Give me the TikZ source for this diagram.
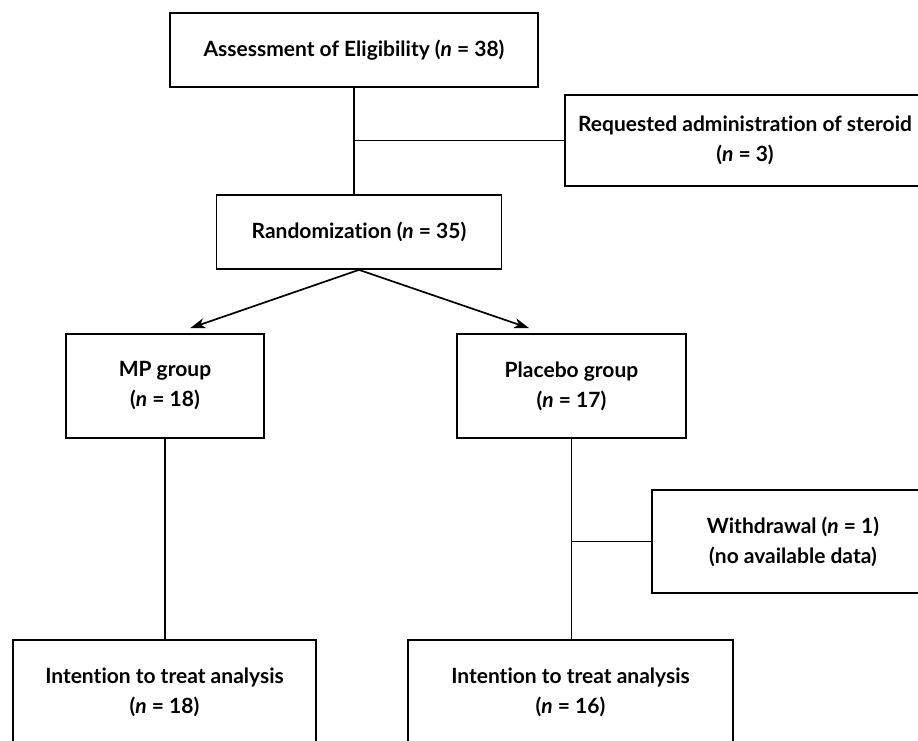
\documentclass[tikz,border=0pt]{standalone}
\usepackage{fontspec}
\setmainfont{Lato}[Ligatures=NoCommon]
\usetikzlibrary{arrows.meta,calc}

\tikzset{
  box/.style={draw, line width=1.7pt, align=center, inner sep=0pt,
    font=\bfseries\fontsize{21}{30}\selectfont},
  link/.style={line width=1.7pt},
}

\begin{document}
\begin{tikzpicture}[x=1pt,y=-1pt,>={Stealth[length=15pt,width=10pt,inset=4pt]}]
\useasboundingbox (0,0) rectangle (918,740);

% Boxes, top to bottom
\node[box, minimum width=368pt, minimum height=74pt] (assess) at (354,50)
  {Assessment of Eligibility (\textit{n} = 38)};
\node[box, minimum width=360pt, minimum height=91pt] (steroid) at (745,140.5)
  {Requested administration of steroid\\(\textit{n} = 3)};
\node[box, minimum width=285pt, minimum height=74pt] (rand) at (359,232)
  {Randomization (\textit{n} = 35)};
\node[box, minimum width=198pt, minimum height=104pt] (mp) at (165,386)
  {MP group\\(\textit{n} = 18)};
\node[box, minimum width=229pt, minimum height=104pt] (placebo) at (571.5,386)
  {Placebo group\\(\textit{n} = 17)};
\node[box, minimum width=282pt, minimum height=103pt] (withdraw) at (793,541.5)
  {Withdrawal (\textit{n} = 1)\\(no available data)};
\node[box, minimum width=303pt, minimum height=104pt] (ittmp) at (164.5,692)
  {Intention to treat analysis\\(\textit{n} = 18)};
\node[box, minimum width=325pt, minimum height=104pt] (ittpl) at (570.5,692)
  {Intention to treat analysis\\(\textit{n} = 16)};

% Arrow tips sit just above the group boxes
\coordinate (mptip) at ($(mp.north west)+(125,-5)$);
\coordinate (pltip) at ($(placebo.north west)+(73,-5)$);

% Connectors
\draw[link] (assess.south) -- (assess.south |- rand.north);
\draw[link] (assess.south |- steroid.west) -- (steroid.west);
\draw[link,->] (rand.south) -- (mptip);
\draw[link,->] (rand.south) -- (pltip);
\draw[link] (mp.south) -- (mp.south |- ittmp.north);
\draw[link] (placebo.south) -- (placebo.south |- ittpl.north);
\draw[link] (placebo.south |- withdraw.west) -- (withdraw.west);

\end{tikzpicture}
\end{document}
